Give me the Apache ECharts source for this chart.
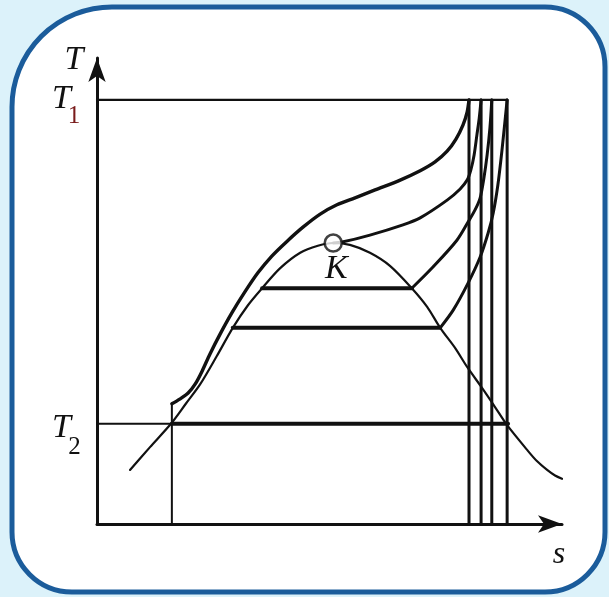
<!DOCTYPE html>
<html>
<head>
<meta charset="utf-8">
<script src="https://cdn.jsdelivr.net/npm/echarts@6/dist/echarts.min.js"></script>
<style>
  html, body { margin: 0; padding: 0; background: #dcf2fa; }
  #chart { width: 609px; height: 597px; }
</style>
</head>
<body>
<div id="chart"></div>
<script>
// T–s diagram of a steam cycle (entropy s on x, temperature T on y, 0–100 scale)

// Temperature levels
const T1 = 91.0;
const T2 = 21.5;

// Pump line (compressed liquid) and isentropic expansion lines
const sPump = 16.1;
const TPumpTop = 25.8;
const sExpansion = [80.0, 82.6, 84.9, 88.2];
const sCondenserEnd = 88.4;

// Saturation dome [s, T]
const dome = [
  [7.1, 11.6], [11.4, 16.5], [15.9, 21.5], [19.1, 25.8], [22.2, 30.0],
  [25.8, 36.1], [29.2, 42.1], [32.5, 47.0], [35.5, 50.6], [39.4, 54.9],
  [43.7, 58.2], [47.5, 59.7], [50.8, 60.3], [54.4, 59.9], [58.7, 58.2],
  [63.0, 55.4], [67.7, 50.6], [71.0, 46.6], [73.8, 42.1], [77.0, 37.8],
  [79.6, 33.7], [82.8, 29.2], [85.6, 25.1], [88.2, 21.2], [92.5, 15.9],
  [94.6, 13.5], [96.8, 11.6], [98.5, 10.4], [100.0, 9.7]
];

// Critical point K
const criticalPoint = [50.8, 60.3];

// Supercritical isobar (from pump outlet up to T1)
const isobarSuper = [
  [16.1, 25.8], [17.8, 26.8], [19.6, 28.1], [21.1, 30.0], [22.6, 32.8],
  [24.3, 36.5], [26.5, 40.8], [29.0, 45.3], [31.8, 49.8], [34.6, 53.9],
  [37.6, 57.5], [40.9, 60.7], [44.3, 63.7], [48.0, 66.5], [51.6, 68.5],
  [55.5, 70.0], [59.8, 71.7], [65.2, 73.8], [69.5, 75.8], [72.7, 77.7],
  [75.3, 80.0], [77.2, 82.6], [78.7, 85.6], [79.6, 88.4], [80.0, 91.0]
];

// Critical isobar (from K up to T1)
const isobarCritical = [
  [50.8, 60.3], [52.7, 60.5], [58.7, 62.0], [65.8, 64.2], [69.5, 65.7],
  [75.3, 69.5], [78.1, 71.9], [79.6, 73.8], [80.4, 76.0], [81.1, 79.2],
  [81.7, 83.5], [82.2, 87.1], [82.6, 91.0]
];

// Subcritical isobar, upper: evaporation plateau and superheat branch
const plateauUpper = [[35.5, 50.6], [67.7, 50.6]];
const superheatUpper = [
  [67.7, 50.6], [72.3, 55.2], [77.4, 60.9], [79.8, 64.8], [81.3, 67.4],
  [82.4, 70.0], [83.2, 74.2], [83.9, 79.2], [84.5, 85.0], [84.9, 91.0]
];

// Subcritical isobar, lower: evaporation plateau and superheat branch
const plateauLower = [[29.2, 42.1], [73.8, 42.1]];
const superheatLower = [
  [73.8, 42.1], [76.6, 45.9], [79.8, 51.7], [82.4, 57.3], [84.1, 62.4],
  [85.2, 66.7], [86.2, 72.7], [87.1, 80.3], [88.2, 91.0]
];

const INK = '#111';
const SERIF = '"Liberation Serif", "Times New Roman", "DejaVu Serif", serif';

function line(data, width, smooth) {
  return {
    type: 'line', data: data, showSymbol: false, symbol: 'none',
    smooth: smooth || false, silent: true, animation: false,
    lineStyle: { color: INK, width: width, cap: 'round', join: 'round' },
    z: 3
  };
}

const series = [
  line(dome, 2.2, 0.3),
  line([[0, T1], [sExpansion[3], T1]], 2.2),
  line([[0, T2], [sPump, T2]], 2),
  line([[sPump, T2], [sCondenserEnd, T2]], 4),
  line([[sPump, 0], [sPump, TPumpTop]], 2),
  line(isobarSuper, 3.4, 0.3),
  line(isobarCritical, 3, 0.3),
  line(plateauUpper, 4),
  line(superheatUpper, 3, 0.3),
  line(plateauLower, 4),
  line(superheatLower, 3, 0.3)
];
sExpansion.forEach(function (s) {
  series.push(line([[s, 0], [s, T1]], 3));
});
series.push({
  type: 'scatter', data: [criticalPoint], symbol: 'circle', symbolSize: 17,
  silent: true, animation: false, z: 5,
  itemStyle: { color: '#fff', borderColor: INK, borderWidth: 2.5 }
});

const chart = echarts.init(document.getElementById('chart'), null, { renderer: 'canvas' });

const axisCommon = {
  type: 'value', min: 0, max: 100,
  splitLine: { show: false }, axisTick: { show: false }, axisLabel: { show: false },
  axisLine: {
    show: true, symbol: ['none', 'arrow'], symbolSize: [13, 24],
    lineStyle: { color: INK, width: 3 }
  }
};

chart.setOption({
  backgroundColor: 'transparent',
  animation: false,
  grid: { left: 97, top: 58, width: 465, height: 466, containLabel: false },
  xAxis: Object.assign({}, axisCommon),
  yAxis: Object.assign({}, axisCommon),
  series: series
});

// Frame and text labels placed relative to the axes
const origin = chart.convertToPixel({ gridIndex: 0 }, [0, 0]);
const pT1 = chart.convertToPixel({ gridIndex: 0 }, [0, T1]);
const pT2 = chart.convertToPixel({ gridIndex: 0 }, [0, T2]);
const pK = chart.convertToPixel({ gridIndex: 0 }, criticalPoint);
const pEnd = chart.convertToPixel({ gridIndex: 0 }, [100, 0]);

function txt(text, x, y, size, color, italic) {
  return {
    type: 'text', x: x, y: y, z: 10, silent: true,
    style: {
      text: text, fill: color || INK,
      fontFamily: SERIF, fontSize: size,
      fontStyle: italic === false ? 'normal' : 'italic',
      align: 'center', verticalAlign: 'middle'
    }
  };
}

chart.setOption({
  graphic: [
    {
      type: 'rect', z: -10, silent: true,
      shape: { x: 12, y: 7, width: 593, height: 585, r: [100, 60, 60, 60] },
      style: { fill: '#fff', stroke: '#1b5c9b', lineWidth: 5 }
    },
    txt('T', origin[0] - 23, 60.5, 34),
    txt('T', pT1[0] - 35.5, pT1[1] - 1, 34),
    txt('1', pT1[0] - 23, pT1[1] + 16, 25, '#7a1c1c', false),
    txt('T', pT2[0] - 35.5, pT2[1] + 4.5, 34),
    txt('2', pT2[0] - 22.5, pT2[1] + 23.5, 25, INK, false),
    txt('s', pEnd[0] - 3, origin[1] + 31, 32),
    txt('K', pK[0] + 3, pK[1] + 26, 34)
  ]
});
</script>
</body>
</html>
